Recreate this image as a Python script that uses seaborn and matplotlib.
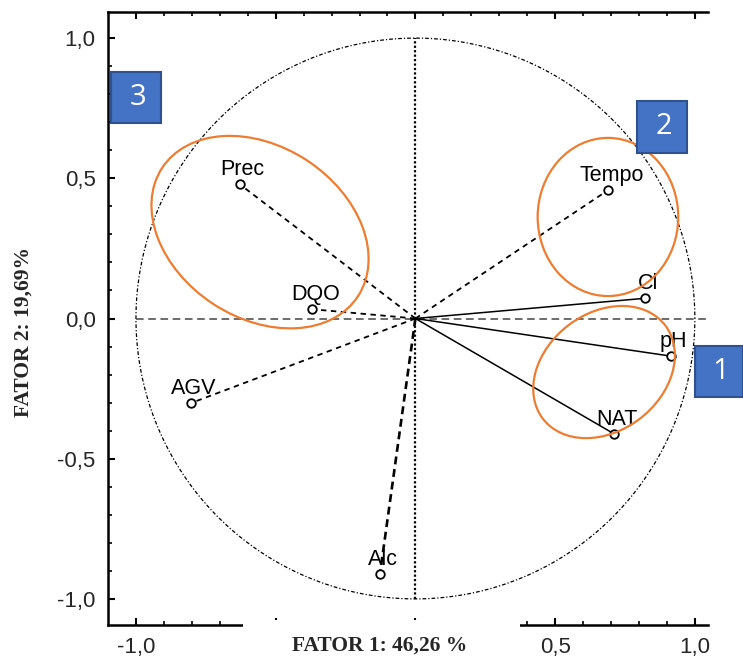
import numpy as np
import pandas as pd
import seaborn as sns
import matplotlib.pyplot as plt
from matplotlib.patches import Ellipse, Rectangle

# loadings
variaveis = ['Prec', 'DQO', 'AGV', 'Alc', 'Tempo', 'Cl', 'pH', 'NAT']
fator1 = [-0.629, -0.369, -0.804, -0.127, 0.690, 0.821, 0.913, 0.712]
fator2 = [0.479, 0.033, -0.302, -0.912, 0.458, 0.072, -0.134, -0.412]
tracejado = ['Prec', 'DQO', 'AGV', 'Alc', 'Tempo']

# tick labels
yticks = ['-1,0', '-0,5', '0,0', '0,5', '1,0']
xticks = ['-1,0', '', '', '0,5', '1,0']  # middle ones sit under the axis title

grupos = ['1', '2', '3']

df = pd.DataFrame({'var': variaveis, 'f1': fator1, 'f2': fator2})

sns.set_style('white')
plt.rcParams['font.family'] = ['Liberation Sans', 'DejaVu Sans']

fig = plt.figure(figsize=(7.43, 6.62), dpi=100)
ax = fig.add_axes([108 / 743, 1 - 625 / 662, 600 / 743, 613 / 662])

# unit circle
t = np.linspace(0, 2 * np.pi, 400)
ax.plot(np.cos(t), np.sin(t), color='black', lw=0.9, ls=(0, (1, 1.6, 3, 1.6)))

# reference axes
ax.plot([-1, 1.05], [0, 0], color='#444444', lw=1.1, ls=(0, (5, 3)))
ax.plot([0, 0], [-1, 1], color='black', lw=1.6, ls=(0, (1, 1)))

# vectors from origin
for _, r in df.iterrows():
    if r['var'] == 'Alc':
        ax.plot([0, r.f1], [0, r.f2], color='black', lw=1.9, ls=(0, (3, 1.8)))
    elif r['var'] in tracejado:
        ax.plot([0, r.f1], [0, r.f2], color='black', lw=1.3, ls=(0, (3, 2.5)))
    else:
        ax.plot([0, r.f1], [0, r.f2], color='black', lw=1.1)

sns.scatterplot(data=df, x='f1', y='f2', ax=ax, marker='o', s=38,
                facecolor='white', edgecolor='black', linewidth=1.3, zorder=5)

for _, r in df.iterrows():
    ax.annotate(r['var'], (r.f1, r.f2), xytext=(3, 9), textcoords='offset pixels',
                ha='center', va='baseline', fontsize=15.5, color='black', zorder=6)

# orange groupings
laranja = '#ED7D31'
ax.add_patch(Ellipse((-0.556, 0.308), 0.837, 0.612, angle=-33, fill=False,
                     edgecolor=laranja, lw=1.6, zorder=7))
ax.add_patch(Ellipse((0.689, 0.362), 0.503, 0.564, angle=0, fill=False,
                     edgecolor=laranja, lw=1.6, zorder=7))
ax.add_patch(Ellipse((0.675, -0.191), 0.55, 0.42, angle=37, fill=False,
                     edgecolor=laranja, lw=1.6, zorder=7))

ax.set_xlim(-1.1, 1.047)
ax.set_ylim(-1.093, 1.093)
ax.set_xticks([-1.0, -0.5, 0.0, 0.5, 1.0])
ax.set_yticks([-1.0, -0.5, 0.0, 0.5, 1.0])
ax.set_xticks(np.arange(-1.0, 1.01, 0.1), minor=True)
ax.set_yticks(np.arange(-1.0, 1.01, 0.1), minor=True)
ax.set_xticklabels(xticks)
ax.set_yticklabels(yticks)
ax.tick_params(which='both', direction='in', top=True, bottom=True, left=True,
               right=False, color='black', labelsize=16, pad=9)
ax.tick_params(which='major', length=5, width=1.5)
ax.tick_params(which='minor', length=3, width=1.2)
ax.set_xlabel('')
ax.set_ylabel('')
for s in ['left', 'top', 'bottom']:
    ax.spines[s].set_visible(True)
    ax.spines[s].set_color('black')
    ax.spines[s].set_linewidth(1.8)
ax.spines['right'].set_visible(False)
ax.grid(False)

# white block behind x axis title (hides middle of bottom axis)
fig.patches.append(Rectangle((243 / 743, 0), 277 / 743, 42 / 662, transform=fig.transFigure,
                             facecolor='white', edgecolor='none', zorder=10))
fig.text(380 / 743, 1 - 646 / 662, 'FATOR 1: 46,26 %', ha='center', va='center',
         fontsize=15.5, fontweight='bold', family=['Liberation Serif', 'DejaVu Serif'], zorder=11)
fig.text(24 / 743, 1 - 332 / 662, 'FATOR 2: 19,69%', ha='center', va='center', rotation=90,
         fontsize=15.5, fontweight='bold', family=['Liberation Serif', 'DejaVu Serif'], zorder=11)

# numbered blue boxes (pixel boxes of the original)
caixas = [(695, 346, 48, 51), (637, 101, 50, 52), (111, 72, 50, 51)]
for g, (x0, y0, w, h) in zip(grupos, caixas):
    fig.patches.append(Rectangle((x0 / 743, 1 - (y0 + h) / 662), w / 743, h / 662,
                                 transform=fig.transFigure, facecolor='#4472C4',
                                 edgecolor='#2F528F', lw=1.5, zorder=12))
    fig.text((x0 + w / 2 + 2) / 743, 1 - (y0 + h / 2) / 662, g, ha='center', va='center',
             color='white', fontsize=21, family=['Open Sans', 'DejaVu Sans'], zorder=13)

plt.savefig('out.png', dpi=100)
